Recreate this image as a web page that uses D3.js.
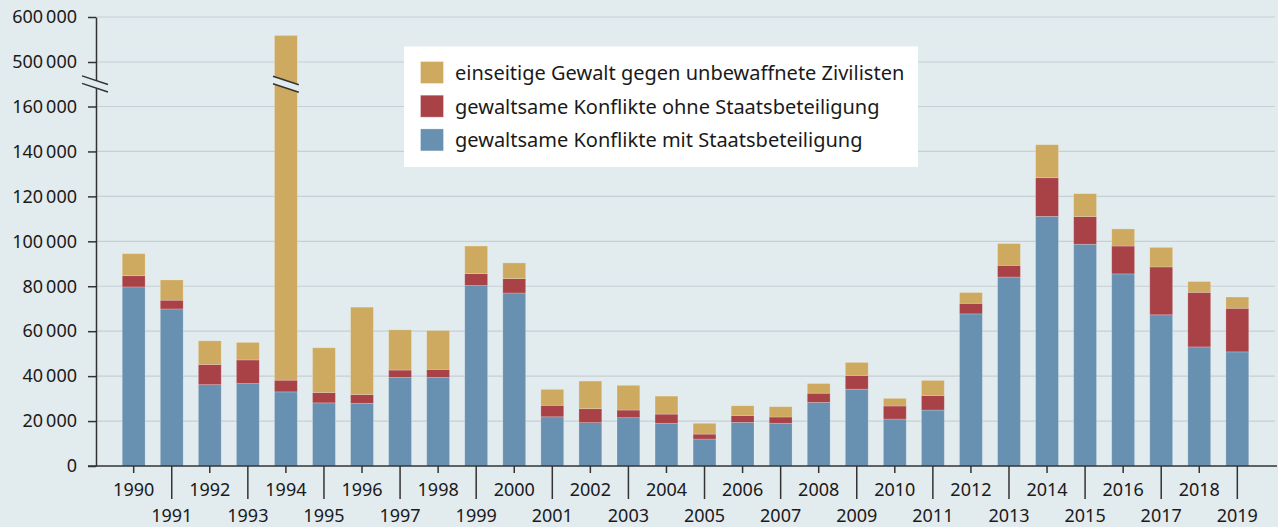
<!DOCTYPE html>
<html>
<head>
<meta charset="utf-8">
<script src="https://cdn.jsdelivr.net/npm/d3@7"></script>
<style>
  body { margin: 0; background: #e2ebee; }
  svg { display: block; font-family: "Noto Sans", sans-serif; }
</style>
</head>
<body>
<div id="chart"></div>
<script>
////////////////////////////////  data  ////////////////////////////////////
var years = d3.range(1990, 2020);

// gewaltsame Konflikte mit Staatsbeteiligung
var stateBased = [79700, 69900, 36200, 36700, 33000, 28100, 27900, 39400, 39400, 80300,
                  77000, 21900, 19300, 21500, 19000, 12000, 19400, 19000, 28300, 34200,
                  20900, 24900, 67700, 84100, 111100, 98700, 85500, 67300, 53000, 50800];
// gewaltsame Konflikte ohne Staatsbeteiligung
var nonState   = [5000, 3900, 9000, 10500, 5200, 4600, 3900, 3300, 3600, 5300,
                  6400, 5100, 6200, 3400, 4100, 2200, 3100, 2800, 4100, 6100,
                  5800, 6500, 4700, 5200, 17200, 12300, 12400, 21300, 24300, 19400];
// einseitige Gewalt gegen unbewaffnete Zivilisten
var oneSided   = [9800, 9000, 10500, 7800, 520800, 19900, 38900, 17900, 17300, 12300,
                  7000, 7100, 12300, 11000, 8000, 4800, 4300, 4600, 4300, 5800,
                  3400, 6700, 4800, 9700, 14700, 10200, 7600, 8700, 4800, 5000];

var seriesKeys   = ["state", "nonstate", "onesided"];
var seriesColors = ["#6890b0", "#a84247", "#cdaa5f"];
var legendLabels = ["einseitige Gewalt gegen unbewaffnete Zivilisten",
                    "gewaltsame Konflikte ohne Staatsbeteiligung",
                    "gewaltsame Konflikte mit Staatsbeteiligung"];
var legendColors = ["#cdaa5f", "#a84247", "#6890b0"];
var yTicks = [0, 20000, 40000, 60000, 80000, 100000, 120000, 140000, 160000, 500000, 600000];

////////////////////////////////  setup  ////////////////////////////////////
var width = 1278, height = 527;
var bg = "#e2ebee";

var svg = d3.select("#chart").append("svg")
  .attr("width", width)
  .attr("height", height);

svg.append("rect").attr("width", width).attr("height", height).attr("fill", bg);

var rows = years.map(function(y, i) {
  return {year: y, state: stateBased[i], nonstate: nonState[i], onesided: oneSided[i]};
});

var x = d3.scaleBand()
  .domain(years)
  .range([96, 1275])
  .paddingInner(0.4)
  .paddingOuter(0.69);

// broken axis: 0-160000 below, 500000-600000 above
var y = d3.scaleLinear()
  .domain([0, 160000, 500000, 600000])
  .range([466, 106.5, 62, 17]);

var locale = d3.formatLocale({decimal: ",", thousands: "\u2009", grouping: [3], currency: ["", " €"]});
var fmt = locale.format(",d");

// grid
svg.append("g").selectAll("line")
  .data(yTicks.filter(function(d) { return d > 0; }))
  .enter().append("line")
  .attr("x1", 96).attr("x2", 1275)
  .attr("y1", function(d) { return y(d); })
  .attr("y2", function(d) { return y(d); })
  .attr("stroke", "#c6cfd3")
  .attr("stroke-width", 1.2);

// bars
var stack = d3.stack().keys(seriesKeys);
var layers = stack(rows);

svg.append("g").selectAll("g")
  .data(layers)
  .enter().append("g")
  .attr("fill", function(d, i) { return seriesColors[i]; })
  .selectAll("rect")
  .data(function(d) { return d; })
  .enter().append("rect")
  .attr("x", function(d) { return x(d.data.year); })
  .attr("width", x.bandwidth())
  .attr("y", function(d) { return y(d[1]); })
  .attr("height", function(d) { return y(d[0]) - y(d[1]); })
  .attr("stroke", "#ffffff")
  .attr("stroke-opacity", 0.25)
  .attr("stroke-width", 0.8);

// y axis
var yAxis = svg.append("g")
  .attr("transform", "translate(96,0)")
  .call(d3.axisLeft(y).tickValues(yTicks).tickFormat(fmt).tickSize(8).tickSizeOuter(0).tickPadding(11));

yAxis.select(".domain").attr("stroke", "#333").attr("stroke-width", 1.5);
yAxis.selectAll(".tick line").attr("stroke", "#333").attr("stroke-width", 1.5);
yAxis.selectAll(".tick text")
  .attr("font-size", "18px")
  .attr("fill", "#1a1a1a")
  .attr("font-family", "Noto Sans, sans-serif");

// x axis
svg.append("line")
  .attr("x1", 88).attr("x2", 1277)
  .attr("y1", 466).attr("y2", 466)
  .attr("stroke", "#333").attr("stroke-width", 1.5);

var xt = svg.append("g").selectAll("g")
  .data(years)
  .enter().append("g")
  .attr("transform", function(d) { return "translate(" + (x(d) + x.bandwidth() / 2) + ",466)"; });

xt.append("line")
  .attr("y1", 0)
  .attr("y2", function(d) { return d % 2 === 0 ? 7 : 33; })
  .attr("stroke", "#333").attr("stroke-width", 1.5);

xt.append("text")
  .attr("text-anchor", "middle")
  .attr("y", function(d) { return d % 2 === 0 ? 30 : 56; })
  .attr("font-size", "18px")
  .attr("fill", "#1a1a1a")
  .text(function(d) { return d; });

// break marks
var yb = (y(160000) + y(500000)) / 2;
function drawBreak(x0, x1, xc) {
  var k = 0.33, gap = 7.5;
  var a = [x0, yb - gap / 2 - (xc - x0) * k], b = [x1, yb - gap / 2 + (x1 - xc) * k];
  var c = [x1, b[1] + gap], e = [x0, a[1] + gap];
  svg.append("polygon")
    .attr("points", [a, b, c, e].map(function(p) { return p.join(","); }).join(" "))
    .attr("fill", bg);
  [[a, b], [e, c]].forEach(function(l) {
    svg.append("line")
      .attr("x1", l[0][0]).attr("y1", l[0][1])
      .attr("x2", l[1][0]).attr("y2", l[1][1])
      .attr("stroke", "#333").attr("stroke-width", 1.5);
  });
}
drawBreak(82, 108, 96);
var bx = x(1994);
drawBreak(bx - 1.5, bx + x.bandwidth() + 1.5, bx + x.bandwidth() / 2);

// legend
var lg = svg.append("g");
lg.append("rect")
  .attr("x", 404).attr("y", 46.5)
  .attr("width", 514).attr("height", 120.5)
  .attr("fill", "#ffffff");

var li = lg.selectAll(".leg")
  .data(legendLabels)
  .enter().append("g")
  .attr("class", "leg")
  .attr("transform", function(d, i) { return "translate(420.5," + (61.5 + i * 33.7) + ")"; });

li.append("rect")
  .attr("width", 23).attr("height", 22)
  .attr("fill", function(d, i) { return legendColors[i]; })
  .attr("stroke", "#ffffff").attr("stroke-opacity", 0.3);

li.append("text")
  .attr("x", 34.5)
  .attr("y", 18.5)
  .attr("font-size", "20px")
  .attr("fill", "#1a1a1a")
  .text(function(d) { return d; });
</script>
</body>
</html>
